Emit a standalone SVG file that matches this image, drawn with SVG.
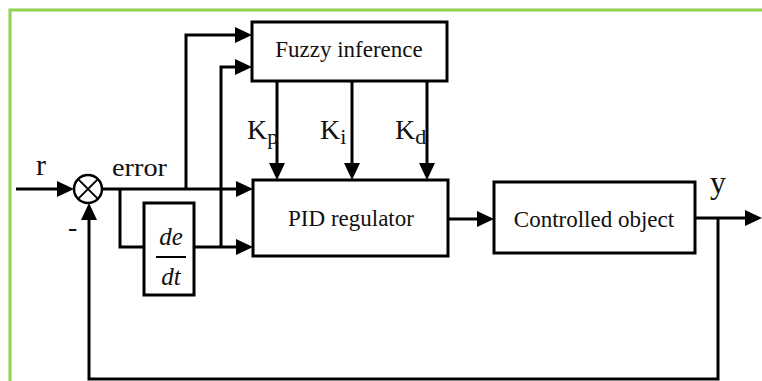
<svg xmlns="http://www.w3.org/2000/svg" width="762" height="381" viewBox="0 0 762 381">
<style>
.box{fill:#fff;stroke:#000;stroke-width:3}
.ln{fill:none;stroke:#000;stroke-width:3}
.arr{marker-end:url(#ah)}
text{font-family:"Liberation Serif","Times New Roman",serif;fill:#111}
.lbl{font-size:23px;text-anchor:middle}
.k{font-size:28px}
.sub{font-size:22px}
.it{font-style:italic;font-size:25px;text-anchor:middle}
</style>
<defs>
<marker id="ah" markerUnits="userSpaceOnUse" markerWidth="17" markerHeight="16" refX="13" refY="8" orient="auto" overflow="visible">
<path d="M0,0 L17,8 L0,16 z" fill="#000"/>
</marker>
</defs>
<rect width="762" height="381" fill="#fff"/>
<path d="M10,381 V10 H762" fill="none" stroke="#92D050" stroke-width="3"/>

<g id="connectors">
<path class="ln arr" d="M16,189 H70"/>
<path class="ln arr" d="M102,189 H249"/>
<path class="ln" d="M120,189 V247 H145"/>
<path class="ln arr" d="M194,247 H249"/>
<path class="ln arr" d="M186,189 V35 H248"/>
<path class="ln arr" d="M221,247 V67 H248"/>
<path class="ln arr" d="M277,81 V176"/>
<path class="ln arr" d="M352,81 V176"/>
<path class="ln arr" d="M427,81 V176"/>
<path class="ln arr" d="M448,219 H490"/>
<path class="ln arr" d="M695,218 H758"/>
<path class="ln arr" d="M718,218 V379 H89 V207"/>
</g>

<g id="sum">
<circle cx="88" cy="189" r="14" fill="#fff" stroke="#000" stroke-width="2.5"/>
<path d="M78.1,179.1 L97.9,198.9 M78.1,198.9 L97.9,179.1" stroke="#000" stroke-width="2"/>
</g>

<g id="fuzzy">
<rect class="box" x="252" y="22" width="195" height="59"/>
<text class="lbl" x="349" y="57">Fuzzy inference</text>
</g>

<g id="pid">
<rect class="box" x="253" y="180" width="195" height="76"/>
<text class="lbl" x="351" y="226">PID regulator</text>
</g>

<g id="plant">
<rect class="box" x="494" y="182" width="201" height="71"/>
<text class="lbl" x="594" y="227">Controlled object</text>
</g>

<g id="deriv">
<rect class="box" x="144" y="203" width="50" height="92" stroke-width="2.5"/>
<text class="it" x="171" y="245">de</text>
<line x1="156" y1="257" x2="186" y2="257" stroke="#000" stroke-width="2"/>
<text class="it" x="171" y="285">dt</text>
</g>

<g id="labels">
<text x="36" y="175" font-size="30">r</text>
<text x="112" y="176" font-size="25" textLength="55" lengthAdjust="spacingAndGlyphs">error</text>
<text x="68" y="236" font-size="28">-</text>
<text x="718" y="193" font-size="32" text-anchor="middle">y</text>
<text class="k" x="247" y="139">K<tspan class="sub" dy="5">p</tspan></text>
<text class="k" x="320" y="139">K<tspan class="sub" dy="5">i</tspan></text>
<text class="k" x="395" y="139">K<tspan class="sub" dy="5">d</tspan></text>
</g>
</svg>
